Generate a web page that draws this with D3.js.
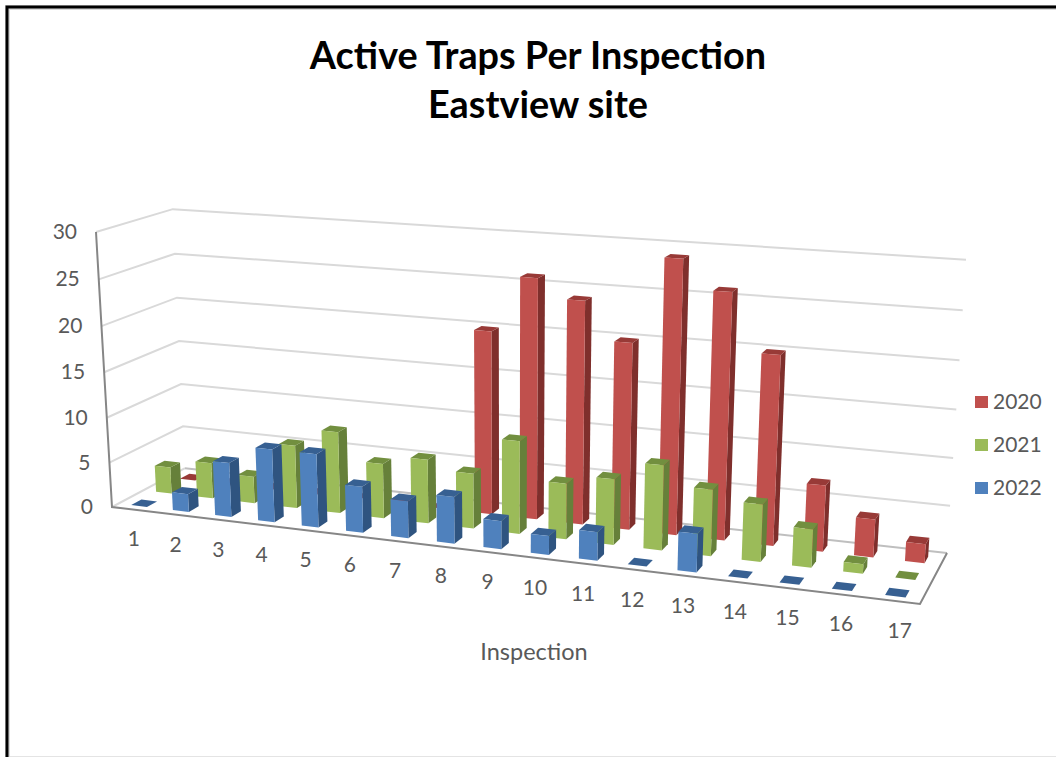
<!DOCTYPE html>
<html>
<head>
<meta charset="utf-8">
<script src="https://cdn.jsdelivr.net/npm/d3@7"></script>
<style>
  html, body { margin: 0; padding: 0; background: #fff; }
  svg { display: block; }
  text { font-family: Lato, "Open Sans", sans-serif; }
</style>
</head>
<body>
<svg id="chart" width="1056" height="757"></svg>
<script>
const inspections = d3.range(1, 18);
const seriesNames = ["2020", "2021", "2022"];
const traps2020 = [0, 0, 0, 0, 0, 0, 0, 20, 26, 24, 20, 29, 26, 20, 7, 4, 2];
const traps2021 = [3, 4, 3, 7, 9, 6, 7, 6, 10, 6, 7, 9, 7, 6, 4, 1, 0];
const traps2022 = [0, 2, 6, 8, 8, 5, 4, 5, 3, 2, 3, 0, 4, 0, 0, 0, 0];
const valueTicks = [0, 5, 10, 15, 20, 25, 30];
const palette = {
  "2020": { front: "#C0504D", side: "#7F2F2C", top: "#983A37" },
  "2021": { front: "#9BBB59", side: "#66803A", top: "#728F3F" },
  "2022": { front: "#4F81BD", side: "#2F5480", top: "#376092" }
};
const valuesBySeries = { "2020": traps2020, "2021": traps2021, "2022": traps2022 };

// Screen positions of the plot box corners, used to build the perspective.
const floorFL = [112, 507], floorFR = [920, 604], floorBR = [947, 553], floorBL = [185, 468.2];
const topFL = [96, 232], topBR = [966, 259];

// Square-to-quad homography of the floor gives three columns of the camera matrix.
function floorColumns() {
  const [x0, y0] = floorFL, [x1, y1] = floorFR, [x2, y2] = floorBR, [x3, y3] = floorBL;
  const dx1 = x1 - x2, dx2 = x3 - x2, sx = x0 - x1 + x2 - x3;
  const dy1 = y1 - y2, dy2 = y3 - y2, sy = y0 - y1 + y2 - y3;
  const den = dx1 * dy2 - dx2 * dy1;
  const g = (sx * dy2 - dx2 * sy) / den;
  const h = (dx1 * sy - sx * dy1) / den;
  return {
    u: [x1 - x0 + g * x1, y1 - y0 + g * y1, g],
    v: [x3 - x0 + h * x3, y3 - y0 + h * y3, h],
    o: [x0, y0, 1]
  };
}
const { u, v, o } = floorColumns();
// Height column: the top-left-front corner fixes its direction, the top-right-back corner its size.
const baseBR = [u[0] + v[0] + o[0], u[1] + v[1] + o[1], u[2] + v[2] + o[2]];
const lambda = (baseBR[0] - o[0] - topBR[0] * (baseBR[2] - o[2])) / (topBR[0] - topFL[0]);
const w = [lambda * topFL[0] - o[0], lambda * topFL[1] - o[1], lambda - o[2]];

function project(a, b, c) {
  const d = a * u[2] + b * v[2] + c * w[2] + o[2];
  return [
    (a * u[0] + b * v[0] + c * w[0] + o[0]) / d,
    (a * u[1] + b * v[1] + c * w[1] + o[1]) / d
  ];
}

const xBand = d3.scaleBand().domain(inspections).range([0, 1]).paddingInner(0.62).paddingOuter(0.31);
const depthScale = d3.scaleBand().domain(["2022", "2021", "2020"]).range([0, 0.968]).paddingInner(0.595).paddingOuter(0.25);
const zScale = d3.scaleLinear().domain([0, 30]).range([0, 1]);

const svg = d3.select("#chart");
const quad = pts => "M" + pts.map(p => p.join(",")).join("L") + "Z";

// Outer frame with its soft inner edge
svg.append("path").attr("d", "M7.5,757V7.5H1056").attr("fill", "none").attr("stroke", "#D9D9D9").attr("stroke-width", 5);
svg.append("path").attr("d", "M7,757V7H1056").attr("fill", "none").attr("stroke", "#000").attr("stroke-width", 3);
svg.append("path").attr("d", "M10,756.5H1056").attr("fill", "none").attr("stroke", "#E4E4E4").attr("stroke-width", 1);

// Title
const title = svg.append("g").attr("text-anchor", "middle").attr("font-weight", 700).attr("font-size", 37.8).attr("fill", "#000");
title.append("text").attr("x", 538).attr("y", 69).text("Active Traps Per Inspection");
title.append("text").attr("x", 538).attr("y", 118).text("Eastview site");

// Walls: horizontal grid on the back and left sides
const grid = svg.append("g").attr("fill", "none").attr("stroke", "#D9D9D9").attr("stroke-width", 2);
valueTicks.filter(t => t > 0).forEach(t => {
  const z = zScale(t);
  grid.append("path").attr("d", "M" + [project(0, 0, z), project(0, 1, z), project(1, 1, z)].map(p => p.join(",")).join("L"));
});
grid.append("path").attr("d", "M" + project(0, 0, 0).join(",") + "L" + project(0, 1, 0).join(","));
svg.append("path").attr("d", "M" + project(0, 1, 0).join(",") + "L" + project(1, 1, 0).join(","))
  .attr("fill", "none").attr("stroke", "#BFBFBF").attr("stroke-width", 2);

// Bars, painted back row first
["2020", "2021", "2022"].forEach(name => {
  const g = svg.append("g");
  const colors = palette[name];
  const y0 = depthScale(name), y1 = y0 + depthScale.bandwidth();
  inspections.forEach((insp, i) => {
    const x0 = xBand(insp), x1 = xBand(insp) + xBand.bandwidth();
    const z = zScale(valuesBySeries[name][i]);
    g.append("path").attr("fill", colors.side)
      .attr("d", quad([project(x1, y0, 0), project(x1, y1, 0), project(x1, y1, z), project(x1, y0, z)]));
    g.append("path").attr("fill", colors.top)
      .attr("d", quad([project(x0, y0, z), project(x1, y0, z), project(x1, y1, z), project(x0, y1, z)]));
    g.append("path").attr("fill", colors.front)
      .attr("d", quad([project(x0, y0, 0), project(x1, y0, 0), project(x1, y0, z), project(x0, y0, z)]));
  });
});

// Axis edges
svg.append("path")
  .attr("d", "M" + [project(0, 0, 1), project(0, 0, 0), project(1, 0, 0), project(1, 1, 0)].map(p => p.join(",")).join("L"))
  .attr("fill", "none").attr("stroke", "#868686").attr("stroke-width", 2);

// Tick labels
const labels = svg.append("g").attr("font-size", 21).attr("fill", "#595959");
valueTicks.forEach(t => {
  const p = project(0, 0, zScale(t));
  labels.append("text").attr("x", p[0] - 19).attr("y", p[1] + 7).attr("text-anchor", "end").text(t);
});
const labelShift = d3.scaleLinear().domain([1, 5, 12, 16, 17]).range([1, 1, -1, 2, 7]);
inspections.forEach(insp => {
  const p = project(xBand(insp) + xBand.bandwidth() / 2, 0, 0);
  labels.append("text").attr("x", p[0] + labelShift(insp)).attr("y", p[1] + 37).attr("text-anchor", "middle").text(insp);
});
labels.append("text").attr("x", 534).attr("y", 660).attr("text-anchor", "middle").attr("font-size", 23.5).text("Inspection");

// Legend
const legendY = d3.scalePoint().domain(seriesNames).range([402, 488]);
seriesNames.forEach(name => {
  labels.append("rect").attr("x", 975).attr("y", legendY(name) - 6).attr("width", 13).attr("height", 12).attr("fill", palette[name].front);
  labels.append("text").attr("x", 993).attr("y", legendY(name) + 7).text(name);
});
</script>
</body>
</html>
